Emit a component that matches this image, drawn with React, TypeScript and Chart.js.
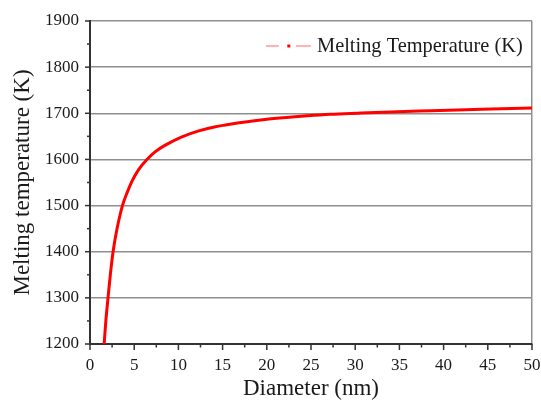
import React, { useEffect, useRef } from "react";
import { Chart, registerables } from "chart.js";

Chart.register(...registerables);

const diameters = [
  1.6, 1.8, 2.05, 2.31, 2.61, 3.03, 3.67, 4.2, 4.73, 5.5, 6.44, 7.4, 8.52,
  10.4, 12.3, 14.2, 15.3, 18, 20.8, 24.6, 27.2, 30.3, 34, 38.6, 44.3, 50,
];
const meltingTemps = [
  1200, 1252, 1302, 1352, 1400, 1447, 1500, 1528, 1552, 1578, 1600, 1617,
  1631, 1649, 1662, 1671, 1674.5, 1682, 1688.5, 1694.5, 1697.8, 1700.3, 1703,
  1705.5, 1708.5, 1711.5,
];
const seriesLabel = "Melting Temperature (K)";
const xTitle = "Diameter (nm)";
const yTitle = "Melting temperature (K)";

const FONT = "'Liberation Serif', 'Times New Roman', serif";

const extrasPlugin = {
  id: "extras",
  afterDraw(chart: any) {
    const ctx = chart.ctx;
    const xs = chart.scales.x;
    const ys = chart.scales.y;
    const area = chart.chartArea;
    ctx.save();
    ctx.strokeStyle = "#333";
    ctx.lineWidth = 1.5;
    for (let v = 0; v <= 50.001; v += 2.5) {
      const px = xs.getPixelForValue(v);
      const major = Math.abs(v / 5 - Math.round(v / 5)) < 1e-6;
      ctx.beginPath();
      ctx.moveTo(px, area.bottom);
      ctx.lineTo(px, area.bottom + (major ? 6 : 3.5));
      ctx.stroke();
    }
    for (let v = 1200; v <= 1900; v += 50) {
      const py = ys.getPixelForValue(v);
      const major = v % 100 === 0;
      ctx.beginPath();
      ctx.moveTo(area.left, py);
      ctx.lineTo(area.left - (major ? 5 : 3), py);
      ctx.stroke();
    }
    const ly = 46;
    ctx.strokeStyle = "#ff9a9a";
    ctx.lineWidth = 1.5;
    ctx.beginPath();
    ctx.moveTo(266, ly);
    ctx.lineTo(279, ly);
    ctx.moveTo(296, ly);
    ctx.lineTo(311, ly);
    ctx.stroke();
    ctx.fillStyle = "#ff0000";
    ctx.fillRect(287.3, ly - 1.5, 3, 3);
    ctx.fillStyle = "#1a1a1a";
    ctx.font = `20.4px ${FONT}`;
    ctx.textBaseline = "middle";
    ctx.textAlign = "left";
    ctx.fillText(seriesLabel, 317, ly + 1);
    ctx.restore();
  },
};

export default function App() {
  const ref = useRef<HTMLCanvasElement | null>(null);
  useEffect(() => {
    if (!ref.current) return;
    const points = diameters.map((d, i) => ({ x: d, y: meltingTemps[i] }));
    const chart = new Chart(ref.current, {
      type: "line",
      data: {
        datasets: [
          {
            label: seriesLabel,
            data: points,
            borderColor: "#ff0000",
            borderWidth: 3,
            pointRadius: 0,
            cubicInterpolationMode: "monotone",
            fill: false,
          },
        ],
      },
      options: {
        animation: false,
        responsive: false,
        layout: { padding: { top: 21, right: 9, left: 0, bottom: 0 } },
        plugins: { legend: { display: false }, tooltip: { enabled: false } },
        scales: {
          x: {
            type: "linear",
            min: 0,
            max: 50,
            afterFit: (s: any) => {
              s.height = 56;
              s.paddingRight = 0;
              s.paddingLeft = 0;
            },
            ticks: {
              stepSize: 5,
              padding: 11,
              color: "#1a1a1a",
              font: { family: FONT, size: 17 },
              maxRotation: 0,
              callback: (v: any) => String(v),
            },
            grid: {
              drawTicks: false,
              lineWidth: 1.5,
              color: (c: any) =>
                c.tick && c.tick.value === 50 ? "#8f8f8f" : "transparent",
            },
            border: { display: true, color: "#333", width: 2 },
            title: {
              display: true,
              text: xTitle,
              color: "#1a1a1a",
              font: { family: FONT, size: 23 },
              padding: { top: 0, bottom: -3 },
            },
          },
          y: {
            min: 1200,
            max: 1900,
            afterFit: (s: any) => {
              s.width = 90;
              s.paddingTop = 0;
              s.paddingBottom = 0;
            },
            ticks: {
              stepSize: 100,
              padding: 11,
              color: "#1a1a1a",
              font: { family: FONT, size: 17 },
              callback: (v: any) => String(v),
            },
            grid: {
              drawTicks: false,
              lineWidth: 1.5,
              color: "#8f8f8f",
            },
            border: { display: true, color: "#333", width: 2 },
            title: {
              display: true,
              text: yTitle,
              color: "#1a1a1a",
              font: { family: FONT, size: 23 },
              padding: { top: 9, bottom: 0 },
            },
          },
        },
      },
      plugins: [extrasPlugin],
    });
    return () => chart.destroy();
  }, []);
  return (
    <div style={{ position: "absolute", left: 0, top: 0, width: 541, height: 400, background: "#fff" }}>
      <canvas ref={ref} width={541} height={400} style={{ width: 541, height: 400 }} />
    </div>
  );
}
